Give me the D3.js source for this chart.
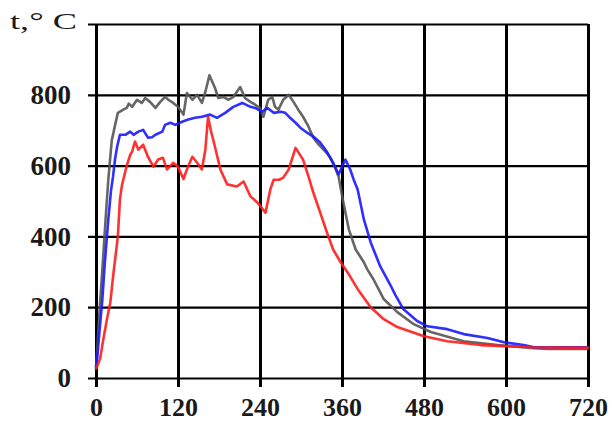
<!DOCTYPE html>
<html>

<head>
  <meta charset="utf-8">
  <title>t, °C</title>
  <script src="https://cdnjs.cloudflare.com/ajax/libs/d3/7.8.5/d3.min.js"></script>
  <style>
    html,
    body {
      margin: 0;
      padding: 0;
      background: #fff;
    }

    svg text {
      font-family: 'Liberation Serif', 'DejaVu Serif', serif;
      fill: #1a1a1a;
    }
  </style>
</head>

<body>
  <svg id="chart"></svg>
  <script>
    let timeTicks = [0, 120, 240, 360, 480, 600, 720]
    let tempTicks = [0, 200, 400, 600, 800]
    let tempGrid = [0, 200, 400, 600, 800, 1000]

    // [time, temperature]
    let greySeries = [
      [0, 25], [6, 214], [10, 327], [14, 448], [18, 560], [23, 670], [28, 715], [32, 749],
      [40, 758], [45, 763], [48, 775], [53, 766], [60, 786], [67, 777], [72, 791], [79, 780],
      [87, 763], [94, 780], [101, 794], [106, 786], [113, 777], [120, 766], [128, 744],
      [133, 805], [141, 786], [148, 800], [155, 777], [160, 808], [166, 855], [174, 820],
      [179, 791], [186, 794], [194, 786], [201, 794], [211, 822], [218, 791], [226, 780],
      [233, 772], [240, 763], [245, 738], [252, 786], [258, 794], [262, 766], [267, 758],
      [274, 786], [282, 800], [289, 780], [296, 758], [303, 738], [311, 710], [318, 679],
      [326, 659], [336, 639], [343, 622], [350, 594], [355, 569], [362, 496], [370, 420],
      [380, 363], [392, 327], [397, 307], [406, 279], [416, 242], [421, 223], [441, 186],
      [465, 152], [490, 130], [538, 104], [588, 93], [636, 85], [660, 82], [720, 82]
    ]

    let blueSeries = [
      [0, 30], [2, 60], [5, 130], [9, 214], [13, 327], [18, 448], [22, 530], [25, 570],
      [28, 620], [31, 654], [35, 687], [43, 687], [50, 696], [55, 687], [62, 696], [69, 701],
      [76, 679], [82, 680], [87, 687], [97, 696], [101, 715], [109, 721], [116, 715],
      [126, 724], [135, 730], [145, 735], [155, 738], [167, 744], [177, 735], [189, 749],
      [201, 766], [214, 777], [226, 766], [233, 763], [243, 752], [251, 763], [260, 749],
      [270, 752], [277, 749], [284, 735], [292, 721], [299, 707], [309, 693], [318, 682],
      [328, 665], [338, 639], [347, 608], [355, 575], [360, 597], [365, 617], [372, 589],
      [377, 561], [383, 532], [392, 448], [402, 383], [416, 315], [431, 262], [438, 235],
      [450, 194], [470, 161], [485, 146], [514, 138], [538, 124], [573, 113], [597, 101],
      [626, 93], [641, 87], [720, 87]
    ]

    let redSeries = [
      [0, 25], [6, 54], [10, 101], [16, 166], [21, 214], [25, 287], [32, 400], [35, 504],
      [38, 545], [45, 600], [50, 630], [53, 640], [57, 668], [62, 645], [69, 659], [76, 625],
      [84, 597], [91, 617], [98, 622], [104, 589], [113, 608], [120, 597], [128, 562],
      [133, 589], [141, 625], [148, 608], [155, 589], [160, 645], [164, 738], [168, 700],
      [174, 654], [182, 589], [192, 547], [206, 541], [216, 555], [226, 513], [236, 496],
      [248, 467], [255, 532], [260, 560], [268, 560], [274, 566], [282, 589], [292, 650],
      [303, 617], [311, 569], [318, 524], [328, 468], [338, 411], [347, 363], [358, 327],
      [368, 299], [383, 251], [402, 200], [421, 166], [441, 144], [480, 118], [514, 104],
      [563, 93], [597, 90], [636, 87], [722, 85]
    ]

    let width = 611
    let height = 421
    let plotLeft = 96
    let plotRight = 588
    let plotTop = 24
    let plotBottom = 378

    let svg = d3.select('#chart').attr('width', width).attr('height', height)

    let x = d3.scaleLinear().domain([0, 720]).range([plotLeft, plotRight])
    let y = d3.scaleLinear().domain([0, 1000]).range([plotBottom, plotTop])

    // horizontal grid + left labels
    let yAxis = svg.append('g')
      .attr('transform', `translate(${plotLeft},0)`)
      .call(d3.axisLeft(y).tickValues(tempGrid).tickSizeInner(-(plotRight - plotLeft)).tickSizeOuter(0).tickPadding(25)
        .tickFormat(d => tempTicks.includes(d) ? d : ''))
    yAxis.select('.domain').remove()
    yAxis.selectAll('line').attr('x1', -8).attr('stroke', '#000').attr('stroke-width', 2.2)
    yAxis.selectAll('text').attr('font-size', 27).attr('font-weight', 'bold')
      .attr('font-family', 'Liberation Serif').attr('fill', '#1a1a1a')

    // vertical grid + bottom labels
    let xAxis = svg.append('g')
      .attr('transform', `translate(0,${plotBottom})`)
      .call(d3.axisBottom(x).tickValues(timeTicks).tickSizeInner(-(plotBottom - plotTop)).tickSizeOuter(0).tickPadding(20))
    xAxis.select('.domain').remove()
    xAxis.selectAll('line').attr('y1', 9).attr('stroke', '#000').attr('stroke-width', 3)
    xAxis.selectAll('text').attr('font-size', 26).attr('font-weight', 'bold')
      .attr('font-family', 'Liberation Serif').attr('fill', '#1a1a1a')

    let line = d3.line().x(d => x(d[0])).y(d => y(d[1]))

    const draw = (data, color) => {
      svg.append('path')
        .datum(data)
        .attr('d', line)
        .attr('fill', 'none')
        .attr('stroke', color)
        .attr('stroke-width', 2.6)
        .attr('stroke-linejoin', 'round')
        .attr('stroke-opacity', 0.9)
    }

    draw(greySeries, '#555555')
    draw(blueSeries, '#1818ff')
    draw(redSeries, '#ff1c1c')

    svg.append('text')
      .attr('x', 10)
      .attr('y', 29)
      .attr('font-size', 24)
      .attr('textLength', 67)
      .attr('lengthAdjust', 'spacingAndGlyphs')
      .text('t,° C')
  </script>
</body>

</html>
